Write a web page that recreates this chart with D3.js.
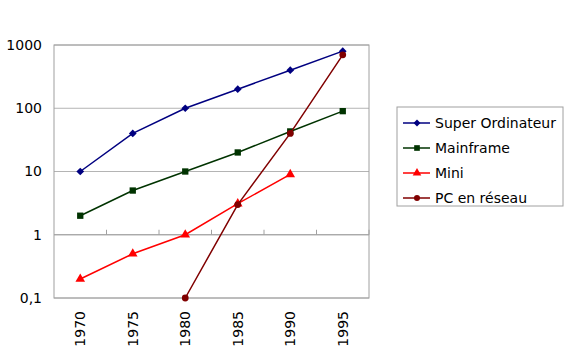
<!DOCTYPE html>
<html>
<head>
<meta charset="utf-8">
<script src="https://cdn.jsdelivr.net/npm/d3@7"></script>
<style>
  body { margin: 0; background: #fff; }
  text { font-family: "Comic Sans MS", "DejaVu Sans", sans-serif; fill: #000; }
</style>
</head>
<body>
<div id="chart"></div>
<script>
// data
var years = ["1970", "1975", "1980", "1985", "1990", "1995"];
var superOrdi = [10, 40, 100, 200, 400, 800];
var mainframe = [2, 5, 10, 20, 43, 90];
var mini = [0.2, 0.5, 1, 3.1, 9, null];
var pcReseau = [null, null, 0.1, 3, 40, 700];
var yTicks = [0.1, 1, 10, 100, 1000];

// diamond = square turned 45 degrees
var series = [
  {name: "Super Ordinateur", values: superOrdi, color: "#000080", shape: d3.symbolSquare, size: 30, rot: 45},
  {name: "Mainframe", values: mainframe, color: "#003300", shape: d3.symbolSquare, size: 40, rot: 0},
  {name: "Mini", values: mini, color: "#ff0000", shape: d3.symbolTriangle, size: 40, rot: 0},
  {name: "PC en réseau", values: pcReseau, color: "#800000", shape: d3.symbolCircle, size: 36, rot: 0}
];

var W = 569, H = 353;
var margin = {top: 45, left: 54, right: 200, bottom: 55};
var width = 369 - 54, height = 298 - 45;

var svg = d3.select("#chart").append("svg")
  .attr("width", W).attr("height", H);

var g = svg.append("g")
  .attr("transform", "translate(" + margin.left + "," + margin.top + ")");

var x = d3.scaleBand().domain(years).range([0, width]);
var y = d3.scaleLog().domain([0.1, 1000]).range([height, 0]);

// grid lines
g.selectAll(".grid").data(yTicks).enter().append("line")
  .attr("x1", 0).attr("x2", width)
  .attr("y1", d => y(d)).attr("y2", d => y(d))
  .attr("stroke", "#b4b4b4").attr("stroke-width", 1);

// plot border
g.append("rect")
  .attr("x", 0).attr("y", 0).attr("width", width).attr("height", height)
  .attr("fill", "none").attr("stroke", "#a0a0a0").attr("stroke-width", 1);

// category axis crosses at 1
var xAxisG = g.append("g").attr("transform", "translate(0," + y(1) + ")");
xAxisG.append("line").attr("x1", 0).attr("x2", width).attr("stroke", "#a0a0a0");
xAxisG.selectAll(".tk").data(years).enter().append("line")
  .attr("x1", (d, i) => (i + 1) * x.step())
  .attr("x2", (d, i) => (i + 1) * x.step())
  .attr("y1", 0).attr("y2", -5)
  .attr("stroke", "#a0a0a0");

// y labels
var fmt = d => d === 0.1 ? "0,1" : String(d);
g.selectAll(".ylab").data(yTicks).enter().append("text")
  .attr("x", -12).attr("y", d => y(d))
  .attr("dy", "0.35em")
  .attr("text-anchor", "end")
  .style("font-size", "14px")
  .text(fmt);

// x labels, rotated
g.selectAll(".xlab").data(years).enter().append("text")
  .attr("transform", d => "translate(" + (x(d) + x.bandwidth() / 2 + 5) + "," + (height + 13) + ") rotate(-90)")
  .attr("text-anchor", "end")
  .style("font-size", "14px")
  .text(d => d);

var line = d3.line()
  .defined(d => d.v != null)
  .x(d => x(d.year) + x.bandwidth() / 2)
  .y(d => y(d.v));

series.forEach(function(s) {
  var pts = years.map((yr, i) => ({year: yr, v: s.values[i]}));
  g.append("path")
    .datum(pts)
    .attr("d", line)
    .attr("fill", "none")
    .attr("stroke", s.color)
    .attr("stroke-width", 1.5);
  g.selectAll(null).data(pts.filter(d => d.v != null)).enter().append("path")
    .attr("d", d3.symbol().type(s.shape).size(s.size))
    .attr("transform", d => "translate(" + (x(d.year) + x.bandwidth() / 2) + "," + y(d.v) + ") rotate(" + s.rot + ")")
    .attr("fill", s.color);
});

// legend
var leg = svg.append("g").attr("transform", "translate(397,107)");
leg.append("rect")
  .attr("width", 166).attr("height", 99)
  .attr("fill", "#fff").attr("stroke", "#a0a0a0");
var items = leg.selectAll(".item").data(series).enter().append("g")
  .attr("transform", (d, i) => "translate(0," + (16 + i * 25) + ")");
items.append("line")
  .attr("x1", 6).attr("x2", 33)
  .attr("stroke", d => d.color).attr("stroke-width", 1.5);
items.append("path")
  .attr("d", d => d3.symbol().type(d.shape).size(d.size * 0.8)())
  .attr("transform", d => "translate(20,0) rotate(" + d.rot + ")")
  .attr("fill", d => d.color);
items.append("text")
  .attr("x", 38).attr("dy", "0.35em")
  .style("font-size", "14px")
  .text(d => d.name);
</script>
</body>
</html>
